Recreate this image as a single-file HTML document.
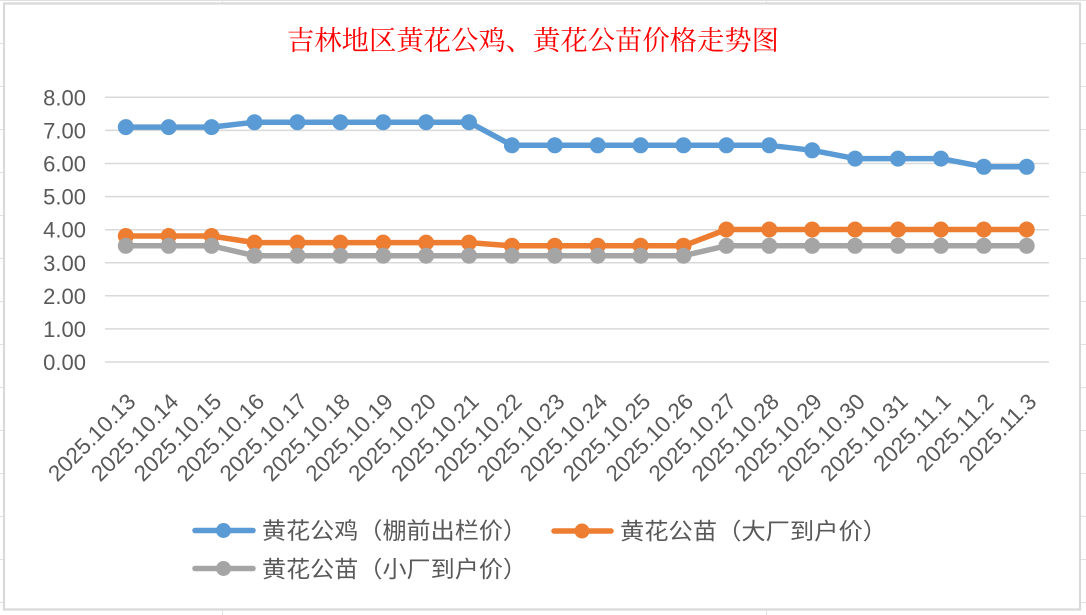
<!DOCTYPE html>
<html>
<head>
<meta charset="utf-8">
<style>
html,body{margin:0;padding:0;background:#fff;}
body{width:1086px;height:615px;overflow:hidden;}
svg{display:block;}
</style>
</head>
<body>
<svg width="1086" height="615" viewBox="0 0 1086 615" xmlns="http://www.w3.org/2000/svg">
<rect x="0" y="0" width="1086" height="615" fill="#fff"/>
<!-- spreadsheet grid outside chart -->
<g stroke="#e1e1e1" stroke-width="1">
  <line x1="0" y1="0.5" x2="1086" y2="0.5"/>
  <line x1="222.5" y1="0" x2="222.5" y2="615"/>
  <line x1="766.5" y1="0" x2="766.5" y2="615"/>
  <line x1="0" y1="43.5" x2="1086" y2="43.5"/>
  <line x1="0" y1="86.5" x2="1086" y2="86.5"/>
  <line x1="0" y1="129.5" x2="1086" y2="129.5"/>
  <line x1="0" y1="172.5" x2="1086" y2="172.5"/>
  <line x1="0" y1="215.5" x2="1086" y2="215.5"/>
  <line x1="0" y1="258.5" x2="1086" y2="258.5"/>
  <line x1="0" y1="301.5" x2="1086" y2="301.5"/>
  <line x1="0" y1="344.5" x2="1086" y2="344.5"/>
  <line x1="0" y1="387.5" x2="1086" y2="387.5"/>
  <line x1="0" y1="430.5" x2="1086" y2="430.5"/>
  <line x1="0" y1="473.5" x2="1086" y2="473.5"/>
  <line x1="0" y1="516.5" x2="1086" y2="516.5"/>
  <line x1="0" y1="559.5" x2="1086" y2="559.5"/>
  <line x1="0" y1="602.5" x2="1086" y2="602.5"/>
</g>
<!-- chart area -->
<rect x="4" y="3.5" width="1076" height="606" fill="#fff" stroke="#d9d9d9" stroke-width="2.2"/>

<!-- title -->
<text x="287" y="50" font-family="'Liberation Serif','Noto Serif CJK SC',serif" font-size="27" fill="#ff0000" textLength="492" lengthAdjust="spacingAndGlyphs">吉林地区黄花公鸡、黄花公苗价格走势图</text>

<!-- gridlines -->
<g stroke="#d9d9d9" stroke-width="1.5">
  <line x1="105" y1="97.3" x2="1049" y2="97.3"/>
  <line x1="105" y1="130.4" x2="1049" y2="130.4"/>
  <line x1="105" y1="163.5" x2="1049" y2="163.5"/>
  <line x1="105" y1="196.6" x2="1049" y2="196.6"/>
  <line x1="105" y1="229.7" x2="1049" y2="229.7"/>
  <line x1="105" y1="262.8" x2="1049" y2="262.8"/>
  <line x1="105" y1="295.8" x2="1049" y2="295.8"/>
  <line x1="105" y1="328.9" x2="1049" y2="328.9"/>
  <line x1="105" y1="362" x2="1049" y2="362"/>
</g>

<!-- y labels -->
<g font-family="'Liberation Sans',sans-serif" font-size="22" fill="#595959" text-anchor="end">
  <text x="86" y="105.3">8.00</text>
  <text x="86" y="138.4">7.00</text>
  <text x="86" y="171.5">6.00</text>
  <text x="86" y="204.6">5.00</text>
  <text x="86" y="237.7">4.00</text>
  <text x="86" y="270.8">3.00</text>
  <text x="86" y="303.8">2.00</text>
  <text x="86" y="336.9">1.00</text>
  <text x="86" y="370">0.00</text>
</g>

<!-- x labels -->
<g font-family="'Liberation Sans',sans-serif" font-size="22.5" fill="#595959" text-anchor="end">
  <text transform="translate(137,403) rotate(-45)">2025.10.13</text>
  <text transform="translate(179.9,403) rotate(-45)">2025.10.14</text>
  <text transform="translate(222.8,403) rotate(-45)">2025.10.15</text>
  <text transform="translate(265.7,403) rotate(-45)">2025.10.16</text>
  <text transform="translate(308.6,403) rotate(-45)">2025.10.17</text>
  <text transform="translate(351.5,403) rotate(-45)">2025.10.18</text>
  <text transform="translate(394.4,403) rotate(-45)">2025.10.19</text>
  <text transform="translate(437.3,403) rotate(-45)">2025.10.20</text>
  <text transform="translate(480.2,403) rotate(-45)">2025.10.21</text>
  <text transform="translate(523.1,403) rotate(-45)">2025.10.22</text>
  <text transform="translate(566,403) rotate(-45)">2025.10.23</text>
  <text transform="translate(608.9,403) rotate(-45)">2025.10.24</text>
  <text transform="translate(651.8,403) rotate(-45)">2025.10.25</text>
  <text transform="translate(694.7,403) rotate(-45)">2025.10.26</text>
  <text transform="translate(737.6,403) rotate(-45)">2025.10.27</text>
  <text transform="translate(780.5,403) rotate(-45)">2025.10.28</text>
  <text transform="translate(823.4,403) rotate(-45)">2025.10.29</text>
  <text transform="translate(866.3,403) rotate(-45)">2025.10.30</text>
  <text transform="translate(909.2,403) rotate(-45)">2025.10.31</text>
  <text transform="translate(952.1,403) rotate(-45)">2025.11.1</text>
  <text transform="translate(995,403) rotate(-45)">2025.11.2</text>
  <text transform="translate(1037.9,403) rotate(-45)">2025.11.3</text>
</g>

<!-- series: blue -->
<g>
<polyline fill="none" stroke="#5b9bd5" stroke-width="5.5" stroke-linejoin="round" stroke-linecap="round"
 points="125.8,127.1 168.7,127.1 211.6,127.1 254.5,122.2 297.4,122.2 340.3,122.2 383.2,122.2 426.1,122.2 469,122.2 511.9,145.3 554.8,145.3 597.7,145.3 640.6,145.3 683.5,145.3 726.4,145.3 769.3,145.3 812.2,150.3 855.1,158.6 898,158.6 940.9,158.6 983.8,166.8 1026.7,166.8"/>
<g fill="#5b9bd5">
<circle cx="125.8" cy="127.1" r="8"/><circle cx="168.7" cy="127.1" r="8"/><circle cx="211.6" cy="127.1" r="8"/><circle cx="254.5" cy="122.2" r="8"/><circle cx="297.4" cy="122.2" r="8"/><circle cx="340.3" cy="122.2" r="8"/><circle cx="383.2" cy="122.2" r="8"/><circle cx="426.1" cy="122.2" r="8"/><circle cx="469" cy="122.2" r="8"/><circle cx="511.9" cy="145.3" r="8"/><circle cx="554.8" cy="145.3" r="8"/><circle cx="597.7" cy="145.3" r="8"/><circle cx="640.6" cy="145.3" r="8"/><circle cx="683.5" cy="145.3" r="8"/><circle cx="726.4" cy="145.3" r="8"/><circle cx="769.3" cy="145.3" r="8"/><circle cx="812.2" cy="150.3" r="8"/><circle cx="855.1" cy="158.6" r="8"/><circle cx="898" cy="158.6" r="8"/><circle cx="940.9" cy="158.6" r="8"/><circle cx="983.8" cy="166.8" r="8"/><circle cx="1026.7" cy="166.8" r="8"/>
</g>
</g>

<!-- series: orange -->
<g>
<polyline fill="none" stroke="#ed7d31" stroke-width="5.5" stroke-linejoin="round" stroke-linecap="round"
 points="125.8,236 168.7,236 211.6,236 254.5,242.6 297.4,242.6 340.3,242.6 383.2,242.6 426.1,242.6 469,242.6 511.9,245.8 554.8,245.8 597.7,245.8 640.6,245.8 683.5,245.8 726.4,229.5 769.3,229.5 812.2,229.5 855.1,229.5 898,229.5 940.9,229.5 983.8,229.5 1026.7,229.5"/>
<g fill="#ed7d31">
<circle cx="125.8" cy="236" r="8"/><circle cx="168.7" cy="236" r="8"/><circle cx="211.6" cy="236" r="8"/><circle cx="254.5" cy="242.6" r="8"/><circle cx="297.4" cy="242.6" r="8"/><circle cx="340.3" cy="242.6" r="8"/><circle cx="383.2" cy="242.6" r="8"/><circle cx="426.1" cy="242.6" r="8"/><circle cx="469" cy="242.6" r="8"/><circle cx="511.9" cy="245.8" r="8"/><circle cx="554.8" cy="245.8" r="8"/><circle cx="597.7" cy="245.8" r="8"/><circle cx="640.6" cy="245.8" r="8"/><circle cx="683.5" cy="245.8" r="8"/><circle cx="726.4" cy="229.5" r="8"/><circle cx="769.3" cy="229.5" r="8"/><circle cx="812.2" cy="229.5" r="8"/><circle cx="855.1" cy="229.5" r="8"/><circle cx="898" cy="229.5" r="8"/><circle cx="940.9" cy="229.5" r="8"/><circle cx="983.8" cy="229.5" r="8"/><circle cx="1026.7" cy="229.5" r="8"/>
</g>
</g>

<!-- series: gray -->
<g>
<polyline fill="none" stroke="#a5a5a5" stroke-width="5.5" stroke-linejoin="round" stroke-linecap="round"
 points="125.8,245.8 168.7,245.8 211.6,245.8 254.5,255.7 297.4,255.7 340.3,255.7 383.2,255.7 426.1,255.7 469,255.7 511.9,255.7 554.8,255.7 597.7,255.7 640.6,255.7 683.5,255.7 726.4,245.8 769.3,245.8 812.2,245.8 855.1,245.8 898,245.8 940.9,245.8 983.8,245.8 1026.7,245.8"/>
<g fill="#a5a5a5">
<circle cx="125.8" cy="245.8" r="8"/><circle cx="168.7" cy="245.8" r="8"/><circle cx="211.6" cy="245.8" r="8"/><circle cx="254.5" cy="255.7" r="8"/><circle cx="297.4" cy="255.7" r="8"/><circle cx="340.3" cy="255.7" r="8"/><circle cx="383.2" cy="255.7" r="8"/><circle cx="426.1" cy="255.7" r="8"/><circle cx="469" cy="255.7" r="8"/><circle cx="511.9" cy="255.7" r="8"/><circle cx="554.8" cy="255.7" r="8"/><circle cx="597.7" cy="255.7" r="8"/><circle cx="640.6" cy="255.7" r="8"/><circle cx="683.5" cy="255.7" r="8"/><circle cx="726.4" cy="245.8" r="8"/><circle cx="769.3" cy="245.8" r="8"/><circle cx="812.2" cy="245.8" r="8"/><circle cx="855.1" cy="245.8" r="8"/><circle cx="898" cy="245.8" r="8"/><circle cx="940.9" cy="245.8" r="8"/><circle cx="983.8" cy="245.8" r="8"/><circle cx="1026.7" cy="245.8" r="8"/>
</g>
</g>

<!-- legend -->
<g stroke-linecap="round">
  <line x1="195" y1="530.5" x2="253" y2="530.5" stroke="#5b9bd5" stroke-width="5.5"/>
  <circle cx="223.5" cy="530.5" r="7.5" fill="#5b9bd5"/>
  <line x1="554" y1="531" x2="611" y2="531" stroke="#ed7d31" stroke-width="5.5"/>
  <circle cx="582" cy="531" r="7.5" fill="#ed7d31"/>
  <line x1="195" y1="568.5" x2="253" y2="568.5" stroke="#a5a5a5" stroke-width="5.5"/>
  <circle cx="223.5" cy="568.5" r="7.5" fill="#a5a5a5"/>
</g>
<g font-family="'Liberation Sans','Noto Sans CJK SC',sans-serif" font-size="23" fill="#595959">
  <text x="262" y="538.5" textLength="265" lengthAdjust="spacingAndGlyphs">黄花公鸡（棚前出栏价）</text>
  <text x="620" y="539" textLength="267" lengthAdjust="spacingAndGlyphs">黄花公苗（大厂到户价）</text>
  <text x="262" y="577" textLength="265" lengthAdjust="spacingAndGlyphs">黄花公苗（小厂到户价）</text>
</g>
</svg>
</body>
</html>
